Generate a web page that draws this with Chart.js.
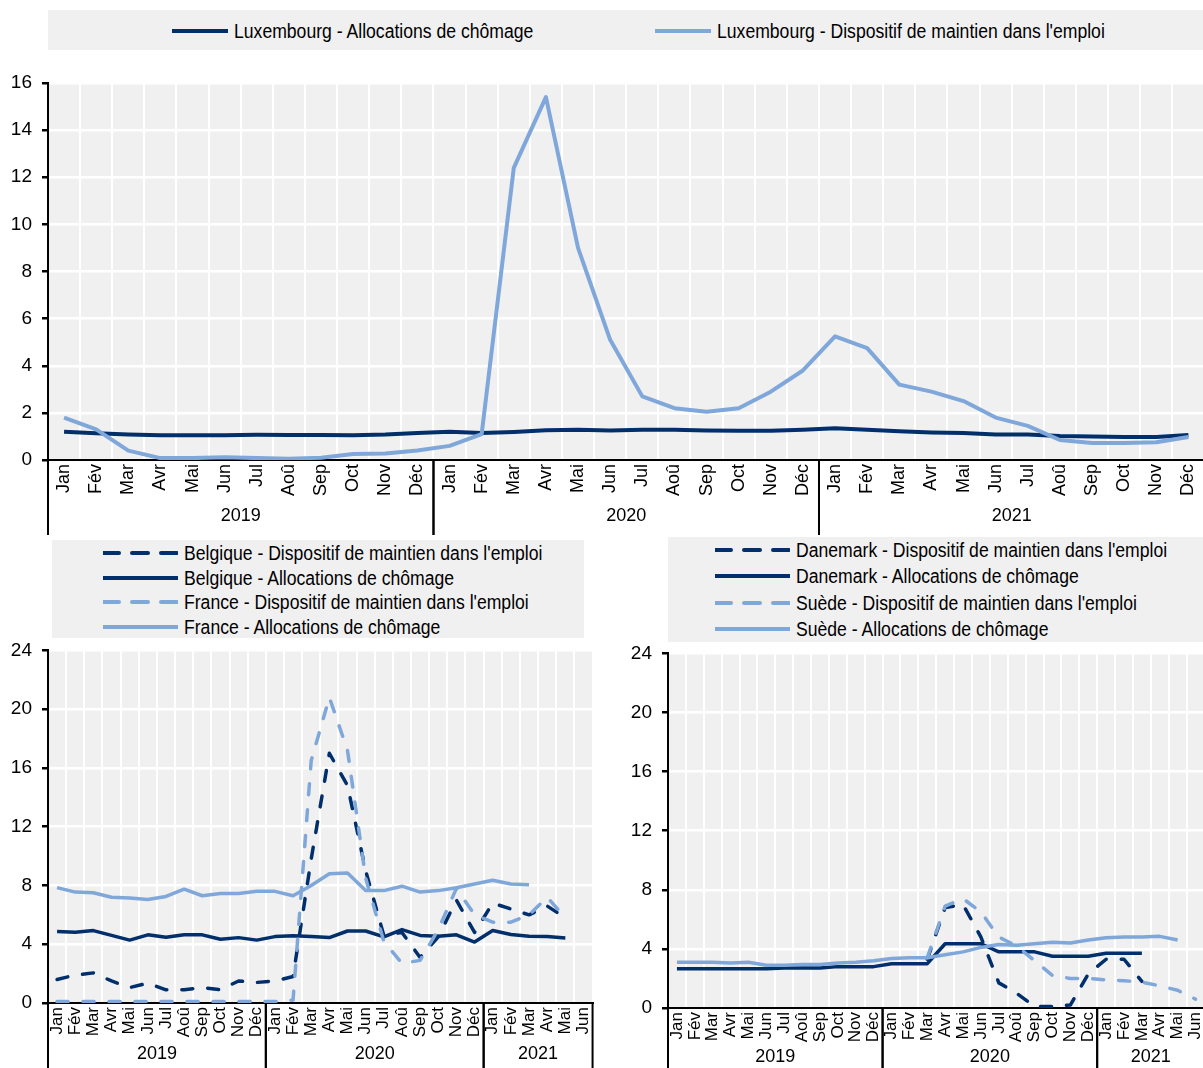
<!DOCTYPE html>
<html>
<head>
<meta charset="utf-8">
<script src="https://cdn.jsdelivr.net/npm/chart.js@4.4.1/dist/chart.umd.min.js"></script>
<style>
	body { margin: 0; width: 1203px; height: 1068px; overflow: hidden; background: #fff; position: relative;
		font-family: "Liberation Sans Narrow", "Arial Narrow", "Liberation Sans", Arial, sans-serif; }
	canvas { position: absolute; }
	.legend { position: absolute; background: #f0f0f0; }
	.item { position: absolute; white-space: nowrap; font-size: 20px; line-height: 22px; color: #000; }
	.item svg { position: absolute; top: 7px; }
	.item span { display: inline-block; transform: scaleX(0.88); transform-origin: left center; }
</style>
</head>
<body>
<div class="legend" id="legTop" style="left:48px;top:10px;width:1155px;height:40px"></div>
<div class="legend" id="legLeft" style="left:52px;top:540px;width:532px;height:98px"></div>
<div class="legend" id="legRight" style="left:668px;top:537px;width:540px;height:105px"></div>
<canvas id="top" width="1214" height="475" style="left:0;top:60px"></canvas>
<canvas id="left" width="608" height="439" style="left:0;top:629px"></canvas>
<canvas id="right" width="610" height="436" style="left:610px;top:632px"></canvas>
<script>
const months = ["Jan", "Fév", "Mar", "Avr", "Mai", "Jun", "Jul", "Aoû", "Sep", "Oct", "Nov", "Déc"];
const yearsTop = [["2019", 12], ["2020", 12], ["2021", 12]];
const yearsBottom = [["2019", 12], ["2020", 12], ["2021", 6]];

// Luxembourg, Jan 2019 - Déc 2021
const luxChomage = [1.2, 1.14, 1.08, 1.05, 1.05, 1.05, 1.07, 1.06, 1.06, 1.05, 1.08, 1.15,
	1.2, 1.15, 1.19, 1.26, 1.28, 1.25, 1.28, 1.28, 1.25, 1.24, 1.24, 1.28,
	1.35, 1.28, 1.22, 1.17, 1.15, 1.08, 1.08, 1.02, 1.0, 0.98, 0.98, 1.06];
const luxMaintien = [1.8, 1.3, 0.4, 0.08, 0.08, 0.12, 0.08, 0.05, 0.1, 0.25, 0.28, 0.4,
	0.6, 1.1, 12.4, 15.4, 9.0, 5.1, 2.7, 2.2, 2.05, 2.2, 2.9, 3.8,
	5.25, 4.75, 3.2, 2.9, 2.5, 1.8, 1.45, 0.85, 0.72, 0.72, 0.75, 0.98];

// Belgique / France, Jan 2019 - Jun 2021
const belMaintien = [1.6, 1.9, 2.05, 1.5, 1.05, 1.35, 0.9, 0.9, 1.05, 0.9, 1.5, 1.4,
	1.5, 1.8, 9.8, 17.0, 14.8, 9.0, 4.6, 4.8, 3.1, 4.5, 7.0, 4.8,
	6.8, 6.4, 6.0, 6.6, 5.8, null];
const belChomage = [4.86, 4.82, 4.93, 4.6, 4.28, 4.64, 4.48, 4.64, 4.64, 4.34, 4.45, 4.28,
	4.52, 4.58, 4.52, 4.45, 4.9, 4.9, 4.5, 5.0, 4.6, 4.55, 4.64, 4.15,
	4.93, 4.66, 4.55, 4.52, 4.42, null];
const fraMaintien = [0.1, 0.1, 0.1, 0.1, 0.1, 0.1, 0.1, 0.1, 0.1, 0.1, 0.1, 0.1,
	0.1, 0.2, 16.5, 20.8, 17.2, 8.5, 4.2, 2.7, 2.9, 5.0, 7.8, 6.0,
	5.5, 5.5, 6.0, 7.2, 5.8, null];
const fraChomage = [7.85, 7.55, 7.5, 7.2, 7.15, 7.05, 7.25, 7.75, 7.3, 7.45, 7.45, 7.6,
	7.6, 7.3, 8.0, 8.8, 8.85, 7.65, 7.65, 7.95, 7.55, 7.65, 7.85, 8.1,
	8.35, 8.1, 8.05, null, null, null];

// Danemark / Suède, Jan 2019 - Jun 2021
const danMaintien = [null, null, null, null, null, null, null, null, null, null, null, null,
	null, null, 3.3, 6.8, 7.0, 4.8, 1.7, 1.0, 0.1, 0.1, 0.2, 2.3,
	3.3, 3.3, 1.8, null, null, null];
const danChomage = [2.65, 2.65, 2.65, 2.65, 2.65, 2.65, 2.7, 2.7, 2.7, 2.8, 2.8, 2.8,
	3.0, 3.0, 3.0, 4.35, 4.35, 4.35, 3.8, 3.8, 3.8, 3.5, 3.5, 3.5,
	3.7, 3.7, 3.7, null, null, null];
const sweMaintien = [null, null, null, null, null, null, null, null, null, null, null, null,
	null, null, 3.4, 6.9, 7.4, 6.5, 4.8, 4.2, 3.2, 2.2, 2.0, 2.0,
	1.9, 1.85, 1.75, 1.5, 1.2, 0.6];
const sweChomage = [3.1, 3.1, 3.1, 3.05, 3.1, 2.9, 2.9, 2.95, 2.95, 3.05, 3.1, 3.2,
	3.35, 3.4, 3.4, 3.6, 3.8, 4.1, 4.3, 4.25, 4.35, 4.45, 4.4, 4.6,
	4.75, 4.8, 4.8, 4.85, 4.6, null];

const dark = "#002f6c";
const light = "#7fa7d9";
const fontFamily = '"Liberation Sans Narrow", "Arial Narrow", "Liberation Sans", Arial, sans-serif';

// months repeated over the years
function monthLabels(groups) {
	let labels = [];
	groups.forEach(g => { for (let i = 0; i < g[1]; i++) labels.push(months[i]); });
	return labels;
}

const plotBg = {
	id: "plotBg",
	beforeDraw(chart) {
		const { ctx, chartArea: a } = chart;
		ctx.save();
		ctx.fillStyle = "#f0f0f0";
		ctx.fillRect(a.left, a.top, a.right - a.left, a.bottom - a.top);
		ctx.restore();
	}
};

// second row of the x axis: years with separators
const yearAxis = {
	id: "yearAxis",
	afterDraw(chart, args, opts) {
		const { ctx, chartArea: a, scales: { x } } = chart;
		const step = x.getPixelForValue(1) - x.getPixelForValue(0);
		let idx = 0;
		ctx.save();
		ctx.strokeStyle = "#000";
		ctx.lineWidth = 2;
		ctx.fillStyle = "#000";
		ctx.font = opts.fontSize + "px " + fontFamily;
		ctx.textAlign = "center";
		ctx.textBaseline = "middle";
		opts.groups.forEach(g => {
			let x0 = x.getPixelForValue(idx) - step / 2;
			let x1 = x.getPixelForValue(idx + g[1] - 1) + step / 2;
			[x0, x1].forEach(px => {
				ctx.beginPath();
				ctx.moveTo(px, a.bottom);
				ctx.lineTo(px, chart.height);
				ctx.stroke();
			});
			ctx.fillText(g[0], (x0 + x1) / 2, opts.textY);
			idx += g[1];
		});
		ctx.restore();
	}
};

function makeChart(id, cfg) {
	return new Chart(document.getElementById(id), {
		type: "line",
		data: {
			labels: monthLabels(cfg.groups),
			datasets: cfg.series.map((s, i) => ({
				data: s.data,
				borderColor: s.color,
				borderWidth: cfg.lineWidth,
				borderDash: s.dash ? [11, 15] : [],
				borderCapStyle: s.dash ? "round" : "butt",
				borderJoinStyle: "round",
				pointRadius: 0,
				tension: 0,
				spanGaps: false,
				order: cfg.series.length - i
			}))
		},
		options: {
			responsive: false,
			animation: false,
			events: [],
			layout: { padding: cfg.padding },
			plugins: {
				legend: { display: false },
				tooltip: { enabled: false },
				yearAxis: { groups: cfg.groups, textY: cfg.yearY, fontSize: 18 }
			},
			scales: {
				x: {
					offset: true,
					grid: { offset: true, color: "#fff", lineWidth: 2, drawTicks: false },
					border: { color: "#000", width: 2 },
					ticks: {
						autoSkip: false, minRotation: 90, maxRotation: 90, padding: 4,
						color: "#000", font: { family: fontFamily, size: cfg.xFont }
					},
					afterFit: (scale) => { scale.height = cfg.xHeight; }
				},
				y: {
					min: 0, max: cfg.yMax,
					grid: { color: "#fff", lineWidth: 2.5, tickColor: "#000", tickLength: 6 },
					border: { color: "#000", width: 2 },
					ticks: {
						stepSize: cfg.yStep, padding: 10,
						color: "#000", font: { family: fontFamily, size: 19 }
					},
					afterFit: (scale) => { scale.width = cfg.yWidth; }
				}
			}
		},
		plugins: [plotBg, yearAxis]
	});
}

makeChart("top", {
	groups: yearsTop, yMax: 16, yStep: 2, lineWidth: 4, xFont: 18,
	padding: { top: 23, right: 0, left: 0, bottom: 0 }, xHeight: 75, yWidth: 48,
	yearY: 456,
	series: [
		{ data: luxChomage, color: dark },
		{ data: luxMaintien, color: light }
	]
});

makeChart("left", {
	groups: yearsBottom, yMax: 24, yStep: 4, lineWidth: 3.5, xFont: 17,
	padding: { top: 10, right: 7, left: 0, bottom: 0 }, xHeight: 65, yWidth: 48,
	yearY: 425,
	series: [
		{ data: belMaintien, color: dark, dash: true },
		{ data: belChomage, color: dark },
		{ data: fraMaintien, color: light, dash: true },
		{ data: fraChomage, color: light }
	]
});

makeChart("right", {
	groups: yearsBottom, yMax: 24, yStep: 4, lineWidth: 3.5, xFont: 17,
	padding: { top: 10, right: 5, left: 0, bottom: 0 }, xHeight: 60, yWidth: 58,
	yearY: 425,
	series: [
		{ data: danMaintien, color: dark, dash: true },
		{ data: danChomage, color: dark },
		{ data: sweMaintien, color: light, dash: true },
		{ data: sweChomage, color: light }
	]
});

// legends as html, line samples in svg
function addLegend(boxId, items) {
	let box = document.getElementById(boxId);
	items.forEach(it => {
		let div = document.createElement("div");
		div.className = "item";
		div.style.left = it.x + "px";
		div.style.top = it.y + "px";
		let dash = it.dash ? 'stroke-dasharray="16 13"' : "";
		div.innerHTML = '<svg width="' + it.w + '" height="8" style="left:0"><line x1="0" y1="4" x2="' + it.w +
			'" y2="4" stroke="' + it.color + '" stroke-width="4" stroke-linecap="round" ' + dash + '/></svg>' +
			'<span style="position:relative;left:' + (it.w + 6) + 'px">' + it.text + '</span>';
		box.appendChild(div);
	});
}

addLegend("legTop", [
	{ x: 124, y: 10, w: 56, color: dark, text: "Luxembourg - Allocations de chômage" },
	{ x: 607, y: 10, w: 56, color: light, text: "Luxembourg - Dispositif de maintien dans l'emploi" }
]);
addLegend("legLeft", [
	{ x: 51, y: 2, w: 75, color: dark, dash: true, text: "Belgique - Dispositif de maintien dans l'emploi" },
	{ x: 51, y: 27, w: 75, color: dark, text: "Belgique - Allocations de chômage" },
	{ x: 51, y: 51, w: 75, color: light, dash: true, text: "France - Dispositif de maintien dans l'emploi" },
	{ x: 51, y: 76, w: 75, color: light, text: "France - Allocations de chômage" }
]);
addLegend("legRight", [
	{ x: 47, y: 2, w: 75, color: dark, dash: true, text: "Danemark - Dispositif de maintien dans l'emploi" },
	{ x: 47, y: 28, w: 75, color: dark, text: "Danemark - Allocations de chômage" },
	{ x: 47, y: 55, w: 75, color: light, dash: true, text: "Suède - Dispositif de maintien dans l'emploi" },
	{ x: 47, y: 81, w: 75, color: light, text: "Suède - Allocations de chômage" }
]);
</script>
</body>
</html>
